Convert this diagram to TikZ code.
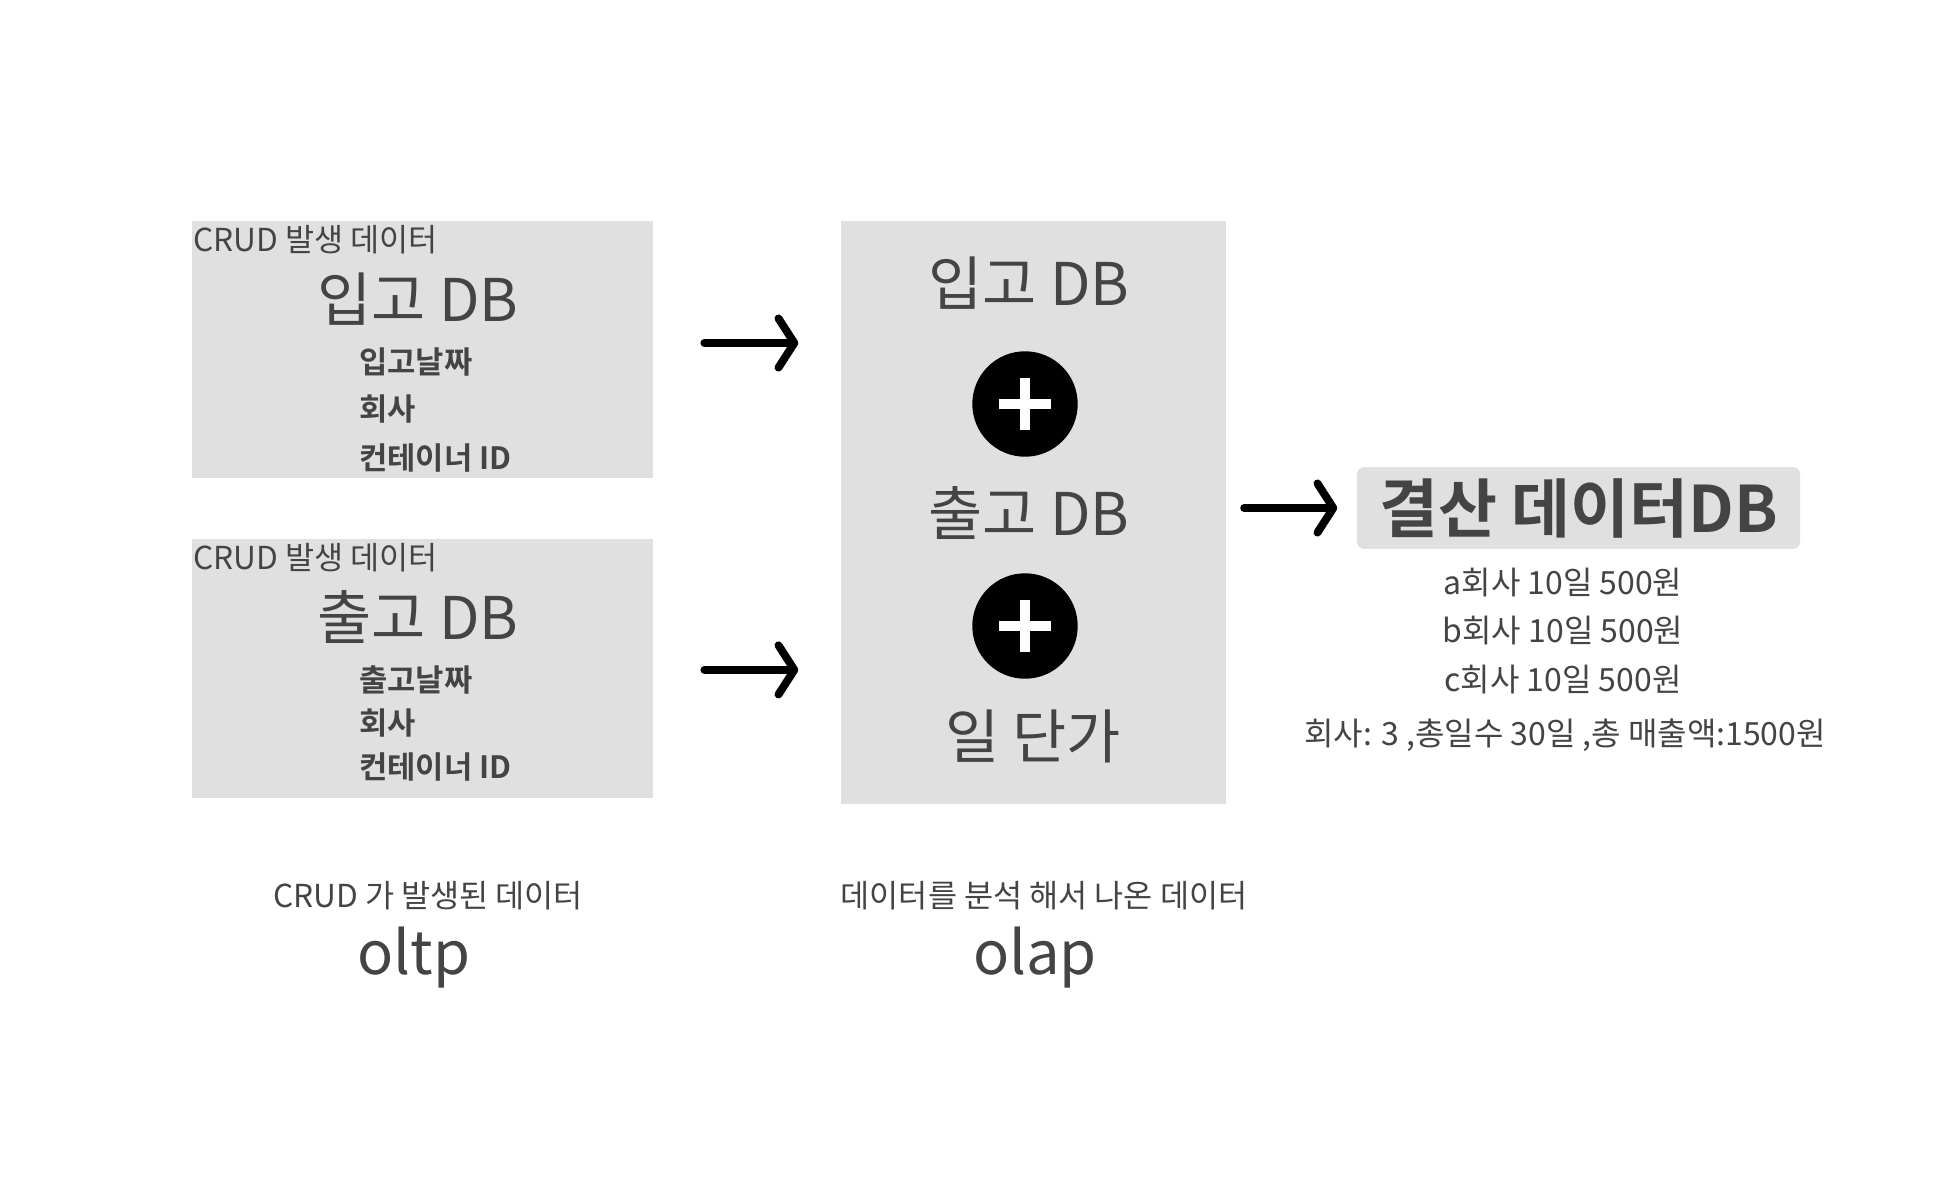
\documentclass[tikz,border=0pt]{standalone}
\usepackage{fontspec}
\setmainfont{Noto Sans CJK KR}[BoldFont={Noto Sans CJK KR Bold}]
\usetikzlibrary{arrows.meta, positioning}

\definecolor{ink}{HTML}{444444}
\definecolor{panelgray}{HTML}{E0E0E0}

\begin{document}
\begin{tikzpicture}[
  x=0.02cm, y=-0.02cm,
  every node/.style={text=ink, inner sep=0pt},
  panel/.style={fill=panelgray, draw=none},
  crud/.style={font=\fontsize{18}{21}\selectfont, anchor=west},
  dbname/.style={font=\fontsize{33.5}{40}\selectfont},
  field/.style={font=\bfseries\fontsize{17.5}{21}\selectfont, anchor=west},
  plusdot/.style={circle, fill=black, minimum size=60pt},
  plusbar/.style={white, line width=5.5pt},
  arrow/.style={-{Straight Barb[length=9pt, width=28pt, line cap=round, line join=round]}, line width=4.5pt, line cap=round, draw=black},
  sumline/.style={font=\fontsize{18.2}{22}\selectfont},
  subtitle/.style={font=\fontsize{18}{21}\selectfont},
  kind/.style={font=\fontsize{34}{40}\selectfont}
]
\useasboundingbox (0,0) rectangle (1956,1200);

% oltp side: two source DBs
\node[panel, minimum width=463*0.5669pt, minimum height=259*0.5669pt] (inbox) at (422.5, 349.5) {};
\node[panel, minimum width=463*0.5669pt, minimum height=260*0.5669pt] (outbox) at (422.5, 668.5) {};

\node[crud] (incrud) at (193, 240) {CRUD 발생 데이터};
\node[dbname] (inname) at (418, 299) {입고 DB};
\node[field] (indate) at (359, 362) {입고날짜};
\node[field] (incomp) at (359, 409) {회사};
\node[field] (incont) at (359, 458) {컨테이너 ID};

\node[crud] (outcrud) at (193, 558) {CRUD 발생 데이터};
\node[dbname] (outname) at (418, 617) {출고 DB};
\node[field] (outdate) at (359, 680) {출고날짜};
\node[field] (outcomp) at (359, 723) {회사};
\node[field] (outcont) at (359, 767) {컨테이너 ID};

% olap side: merged view
\node[panel, minimum width=387*0.5669pt, minimum height=585*0.5669pt] (mid) at (1033.5, 512.5) {};
\node[dbname] (midin) at (1029, 283) {입고 DB};
\node[plusdot] (plusa) at (1025, 404) {};
\node[dbname] (midout) at (1029, 513) {출고 DB};
\node[plusdot] (plusb) at (1025, 626) {};
\node[dbname] (midprice) at (1033, 736) {일 단가};

\foreach \p in {plusa, plusb} {
  \draw[plusbar] ([xshift=-15pt]\p.center) -- ([xshift=15pt]\p.center);
  \draw[plusbar] ([yshift=-15pt]\p.center) -- ([yshift=15pt]\p.center);
}

% result
\node[fill=panelgray, rounded corners=4pt, minimum width=445*0.5669pt, minimum height=82*0.5669pt,
  font=\bfseries\fontsize{36.5}{44}\selectfont] (result) at (1578.5, 508) {결산 데이터DB};
\node[sumline] (rowa) at (1563, 583) {a회사 10일 500원};
\node[sumline] (rowb) at (1563, 631) {b회사 10일 500원};
\node[sumline] (rowc) at (1563, 680) {c회사 10일 500원};
\node[sumline] (total) at (1565, 735) {회사: 3 ,총일수 30일 ,총 매출액:1500원};

% arrows
\draw[arrow, shorten <=29pt, shorten >=24pt] ([yshift=3.7pt]inbox.east) -- ([yshift=3.7pt]inbox.east -| mid.west);
\draw[arrow, shorten <=29pt, shorten >=24pt] ([yshift=-0.8pt]outbox.east) -- ([yshift=-0.8pt]outbox.east -| mid.west);
\draw[arrow, shorten <=10pt, shorten >=11pt] (mid.east |- result.west) -- (result.west);

% captions
\node[subtitle] (oltpnote) at (428, 896) {CRUD 가 발생된 데이터};
\node[kind] (oltp) at (414, 958) {oltp};
\node[subtitle] (olapnote) at (1044, 896) {데이터를 분석 해서 나온 데이터};
\node[kind] (olap) at (1035, 958) {olap};

\end{tikzpicture}
\end{document}
